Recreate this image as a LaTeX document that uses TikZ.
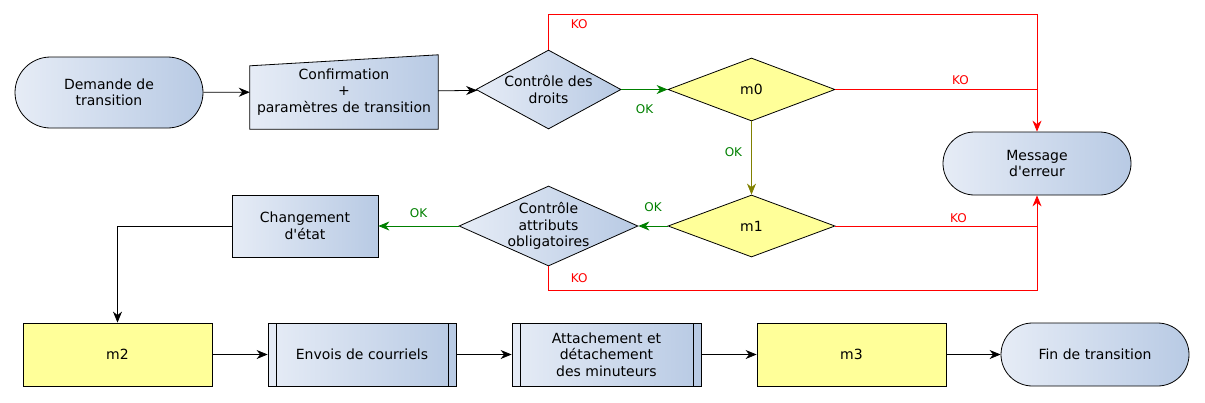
\documentclass[tikz,border=0pt]{standalone}
\usepackage{fontspec}
\setmainfont{DejaVu Sans}
\usetikzlibrary{arrows.meta,shapes.geometric,backgrounds}

\definecolor{bleuA}{RGB}{230,236,246}
\definecolor{bleuB}{RGB}{184,202,228}
\definecolor{jaune}{RGB}{255,255,153}
\definecolor{vert}{RGB}{0,128,0}
\definecolor{rouge}{RGB}{255,0,0}
\definecolor{olive}{RGB}{128,128,0}

\begin{document}
\begin{tikzpicture}[x=1pt, y=-1pt, >={Stealth[length=11pt,width=9pt,inset=3.5pt]},
    every node/.style={font=\fontsize{14}{16.5}\selectfont, align=center, inner sep=0pt},
    bleu/.style={draw, line width=.8pt, left color=bleuA, right color=bleuB},
    terminal/.style={bleu, rectangle, rounded corners=31.5pt, minimum width=188pt, minimum height=63pt},
    boite/.style={bleu, rectangle, minimum width=188pt, minimum height=63pt},
    process/.style={boite, path picture={
        \draw[line width=.8pt] ([xshift=8pt]path picture bounding box.north west) -- ([xshift=8pt]path picture bounding box.south west)
                               ([xshift=-8pt]path picture bounding box.north east) -- ([xshift=-8pt]path picture bounding box.south east);}},
    macro/.style={draw, line width=.8pt, fill=jaune, rectangle, minimum width=189pt, minimum height=63pt},
    test/.style={bleu, diamond, inner sep=-4pt},
    choix/.style={draw, line width=.8pt, fill=jaune, diamond, aspect=2.6, inner sep=-4pt, minimum width=167pt, minimum height=63pt},
    lbl/.style={font=\fontsize{12}{13}\selectfont},
    fleche/.style={->, line width=.8pt},
    ok/.style={fleche, vert},
    ko/.style={line width=.8pt, rouge},
    ]
    \useasboundingbox (0,0) rectangle (1205,402);

    % Nodes {demande, confirm, droits, m0, msg, etc}
    \node [terminal, minimum height=71pt, rounded corners=35.5pt] (demande) at (109,92.5) {Demande de\\transition};
    \node [minimum width=188pt, minimum height=74pt]            (confirm) at (344,92)     {Confirmation\\+\\paramètres de transition};
    \node [test, aspect=1.8, minimum width=145pt, minimum height=79pt] (droits) at (548.5,89.5) {Contrôle des\\droits};
    \node [choix]                                               (m0)      at (751.5,89.5) {m0};
    \node [terminal]                                            (msg)     at (1037,163.5) {Message\\d\textquotesingle erreur};
    \node [choix, minimum height=62pt]                          (m1)      at (751.5,226)  {m1};
    \node [test, aspect=2.2, minimum width=179pt, minimum height=80pt] (attr) at (548.5,226) {Contrôle\\attributs\\obligatoires};
    \node [boite, minimum width=146pt, minimum height=62pt]     (change)  at (305,226)    {Changement\\d\textquotesingle état};
    \node [macro]                                               (m2)      at (117.5,354.5) {m2};
    \node [process]                                             (envois)  at (362,354.5)  {Envois de courriels};
    \node [process, minimum width=189pt]                        (attach)  at (606.5,354.5) {Attachement et\\détachement\\des minuteurs};
    \node [macro]                                               (m3)      at (851.5,354.5) {m3};
    \node [terminal]                                            (fin)     at (1095,354.5) {Fin de transition};

    % Manual input shape behind the text
    \begin{scope}[on background layer]
        \path [bleu] (confirm.south west) -- (confirm.south east) -- (confirm.north east)
                     -- ([yshift=-11pt]confirm.north west) -- cycle;
    \end{scope}

    % Paths
    \path [fleche] (demande) edge (confirm);
    \path [fleche] (confirm) edge (droits);
    \path [ok]     (droits)  edge node [lbl, text=vert, below=15pt] (okA) {OK} (m0);
    \path [fleche, olive] (m0) edge node [lbl, text=vert, left=9pt, pos=.42] (okB) {OK} (m1);
    \path [ok]     (m1)      edge node [lbl, text=vert, above=14pt] (okC) {OK} (attr);
    \path [ok]     (attr)    edge node [lbl, text=vert, above=8pt]  (okD) {OK} (change);

    \draw [ko, ->] (droits.north) -- ++(0,-35) node [lbl, pos=.73, right=22pt] (koA) {KO} -| (msg.north);
    \draw [ko]     (m0.east) -- node [lbl, above=4pt, pos=.62] (koB) {KO} (m0.east -| msg.south);
    \draw [ko]     (m1.east) -- node [lbl, above=3pt, pos=.61] (koC) {KO} (m1.east -| msg.south);
    \draw [ko, ->] (attr.south) -- node [lbl, right=22pt] (koD) {KO} ++(0,24) -| (msg.south);

    \draw [fleche] (change.west) -| (m2.north);
    \path [fleche] (m2)     edge (envois);
    \path [fleche] (envois) edge (attach);
    \path [fleche] (attach) edge (m3);
    \path [fleche] (m3)     edge (fin);

\end{tikzpicture}
\end{document}
